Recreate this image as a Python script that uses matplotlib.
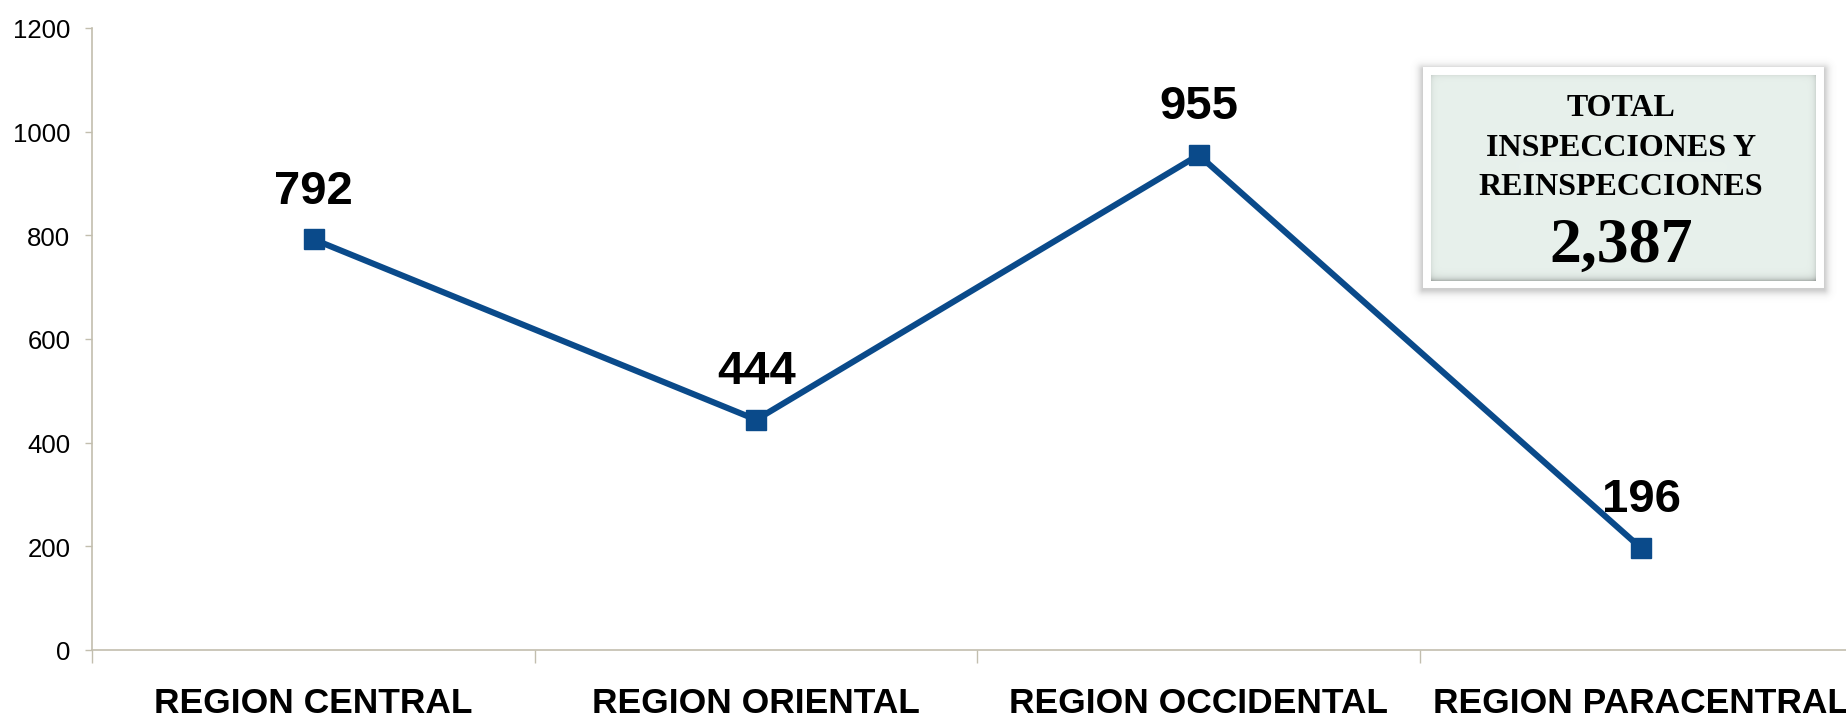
import numpy as np
import matplotlib
matplotlib.use("Agg")
import matplotlib.pyplot as plt

# ---------------- data ----------------
categories = ["REGION CENTRAL", "REGION ORIENTAL", "REGION OCCIDENTAL", "REGION PARACENTRAL"]
values = [792, 444, 955, 196]
y_ticks = [0, 200, 400, 600, 800, 1000, 1200]
box_title = ["TOTAL", "INSPECCIONES Y", "REINSPECCIONES"]
box_total = "2,387"

W, H = 1847, 720
DPI = 100
LINE_COLOR = "#0A4A8A"
AXIS_COLOR = "#C2BEAE"

fig = plt.figure(figsize=(W / DPI - 0.001, H / DPI - 0.001), dpi=DPI)
fig.patch.set_facecolor("white")

# axes geometry (pixels)
x_left, x_right = 92.5, 1862.5
y_zero, y_top = 650.7, 29.0
ax = fig.add_axes([x_left / W, 1 - y_zero / H, (x_right - x_left) / W, (y_zero - y_top) / H])
ax.set_facecolor("none")

x = np.arange(len(categories))
ax.plot(x, values, color=LINE_COLOR, lw=4.4, marker="s", ms=15,
        markerfacecolor=LINE_COLOR, markeredgecolor=LINE_COLOR, solid_joinstyle="miter", zorder=3)

for xi, v in zip(x, values):
    ax.annotate(f"{v}", (xi, v), xytext=(0, 26.5), textcoords="offset points",
                ha="center", va="baseline", fontsize=34, fontweight="bold",
                family="Liberation Sans", color="black", zorder=4)

ax.set_xlim(-0.5, len(categories) - 0.5)
ax.set_ylim(0, 1200)
ax.set_yticks(y_ticks)
ax.set_yticklabels([str(t) for t in y_ticks], family="Liberation Sans", fontsize=18.5)
ax.tick_params(axis="y", length=5, width=1, color=AXIS_COLOR, pad=11, labelcolor="black")

ax.set_xticks(x)
ax.set_xticklabels(categories, family="Liberation Sans", fontweight="bold", fontsize=25.5)
ax.tick_params(axis="x", which="major", length=0, pad=26)
ax.set_xticks(np.arange(-0.5, len(categories) + 0.5, 1.0), minor=True)
ax.tick_params(axis="x", which="minor", length=9, width=1, color=AXIS_COLOR)

for s in ["top", "right"]:
    ax.spines[s].set_visible(False)
for s in ["left", "bottom"]:
    ax.spines[s].set_color(AXIS_COLOR)
    ax.spines[s].set_linewidth(1.2)

# ---------------- decorative total box ----------------
bx0, bx1, by0, by1 = 1403, 1847, 48, 312   # image region (px)
bw, bh = bx1 - bx0, by1 - by0
yy, xx = np.mgrid[0:bh, 0:bw] + 0.5
# outer white frame
ox0, ox1, oy0, oy1 = 1423 - bx0, 1824 - bx0, 68.5 - by0, 288.5 - by0
# inner panel
ix0, ix1, iy0, iy1 = 1431 - bx0, 1816 - bx0, 76.5 - by0, 282 - by0

img = np.ones((bh, bw, 4))
img[..., 3] = 0.0

# shadow (slightly offset downward)
sdx = np.maximum(np.maximum(ox0 - xx, xx - ox1), 0)
sdy = np.maximum(np.maximum(oy0 + 2 - yy, yy - (oy1 + 2)), 0)
sd = np.hypot(sdx, sdy)
shadow_alpha = 0.32 * np.exp(-(sd / 5.0) ** 1.5)
outside = (xx < ox0) | (xx > ox1) | (yy < oy0) | (yy > oy1)
img[..., 0:3] = 0.4
img[..., 3] = np.where(outside, shadow_alpha, 1.0)

inside_outer = ~outside
img[inside_outer, 0:3] = 1.0

inner = (xx >= ix0) & (xx <= ix1) & (yy >= iy0) & (yy <= iy1)
base = np.array([232, 241, 236]) / 255.0
d_left = xx - ix0
d_right = ix1 - xx
d_top = yy - iy0
d_bot = iy1 - yy
dark = (0.08 * np.exp(-d_left / 2.5) + 0.12 * np.exp(-d_right / 2.5)
        + 0.06 * np.exp(-d_top / 2.5) + 0.28 * np.exp(-d_bot / 3.0))
dark = np.clip(dark, 0, 0.4)
col = base[None, None, :] * (1 - dark[..., None])
img[inner, 0:3] = col[inner]

bax = fig.add_axes([bx0 / W, 1 - by1 / H, bw / W, bh / H])
bax.imshow(img, extent=(0, bw, bh, 0), interpolation="bilinear", aspect="auto")
bax.set_axis_off()

cx = 1621 / W
for txt, base_y in zip(box_title, [116, 156, 195]):
    fig.text(cx, 1 - base_y / H, txt, ha="center", va="baseline", family="Liberation Serif",
             fontweight="bold", fontsize=23, color="black")
fig.text(cx, 1 - 262 / H, box_total, ha="center", va="baseline", family="Liberation Serif",
         fontweight="bold", fontsize=46, color="black")

fig.savefig("out.png", dpi=DPI, facecolor="white")
